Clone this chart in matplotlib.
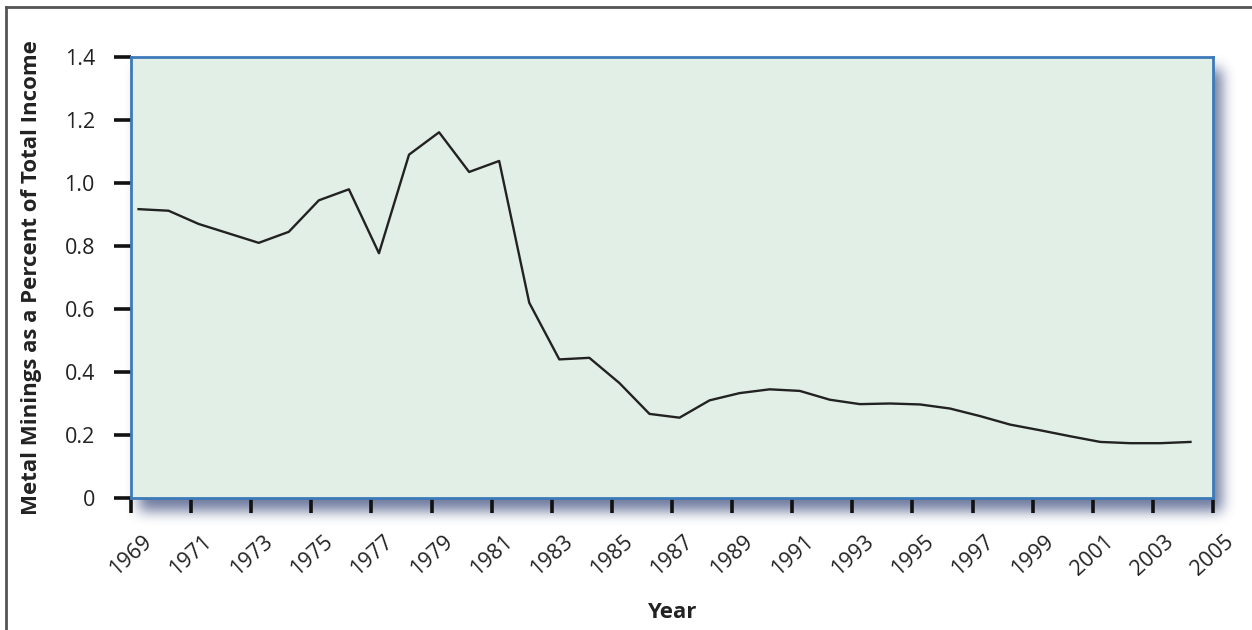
import numpy as np
import matplotlib.pyplot as plt
from matplotlib.lines import Line2D

# Données
years = np.arange(1969, 2005)
share = [0.917, 0.912, 0.870, 0.840, 0.810, 0.845, 0.945, 0.980, 0.777, 1.090,
         1.161, 1.035, 1.070, 0.620, 0.440, 0.445, 0.365, 0.267, 0.255, 0.310,
         0.333, 0.345, 0.340, 0.312, 0.298, 0.300, 0.297, 0.284, 0.260, 0.233,
         0.215, 0.196, 0.178, 0.174, 0.174, 0.178]
x_ticks = np.arange(1969, 2006, 2)
y_ticks = [0, 0.2, 0.4, 0.6, 0.8, 1.0, 1.2, 1.4]
y_labels = ['0', '0.2', '0.4', '0.6', '0.8', '1.0', '1.2', '1.4']

plt.rcParams['font.family'] = ['Open Sans', 'DejaVu Sans']

W, H = 1252, 630
# cadre du graphique en pixels
x0, x1, y0, y1 = 131, 1213, 57, 498


def box(a, r, axis):
    # flou "boîte" le long d'un axe
    pad = [(0, 0), (0, 0)]
    pad[axis] = (r + 1, r)
    c = np.cumsum(np.pad(a, pad), axis=axis)
    n = 2 * r + 1
    if axis == 0:
        return (c[n:, :] - c[:-n, :]) / n
    return (c[:, n:] - c[:, :-n]) / n


fig = plt.figure(figsize=(W / 100, H / 100), dpi=100)

# ombre floue, décalée vers le bas à droite
mask = np.zeros((H, W))
mask[y0 + 12:y1 + 13, x0 + 8:x1 + 9] = 1.0
for _ in range(3):
    mask = box(box(mask, 6, 0), 6, 1)
shadow = np.zeros((H, W, 4))
shadow[..., :3] = np.array([0x55, 0x63, 0x8e]) / 255
shadow[..., 3] = 0.85 * mask
bg = fig.add_axes([0, 0, 1, 1], zorder=-1)
bg.imshow(shadow, extent=(0, W, H, 0), aspect='auto', interpolation='nearest')
bg.set_xlim(0, W)
bg.set_ylim(H, 0)
bg.axis('off')

ax = fig.add_axes([x0 / W, 1 - y1 / H, (x1 - x0) / W, (y1 - y0) / H])

# bordure de l'image (haut et gauche)
fig.lines.append(Line2D([6 / W, 6 / W], [0, 1 - 7 / H], transform=fig.transFigure,
                        color='#555555', lw=2))
fig.lines.append(Line2D([6 / W, 1], [1 - 7 / H, 1 - 7 / H], transform=fig.transFigure,
                        color='#555555', lw=2))

ax.set_facecolor('#e2efe6')
ax.plot(years + 0.25, share, color='#222222', lw=1.7)

ax.set_xlim(1969, 2005)
ax.set_ylim(0, 1.4)
ax.set_xticks(x_ticks)
ax.set_xticklabels([str(y) for y in x_ticks], rotation=42, ha='center', va='top')
ax.set_yticks(y_ticks)
ax.set_yticklabels(y_labels)

for s in ax.spines.values():
    s.set_color('#3d7ab8')
    s.set_linewidth(2)

ax.tick_params(axis='x', direction='out', length=11, width=2.6, color='#111111',
               labelsize=15.5, pad=13, labelcolor='#222222')
ax.tick_params(axis='y', direction='out', length=12, width=2.6, color='#111111',
               labelsize=15.5, pad=14, labelcolor='#222222')

ax.set_xlabel('Year', fontsize=16, fontweight='bold', color='#222222')
ax.xaxis.set_label_coords(0.5, -0.236)
ax.set_ylabel('Metal Minings as a Percent of Total Income', fontsize=16,
              fontweight='bold', color='#222222')
ax.yaxis.set_label_coords(-0.082, 0.5)

fig.savefig('out.png', dpi=100)
